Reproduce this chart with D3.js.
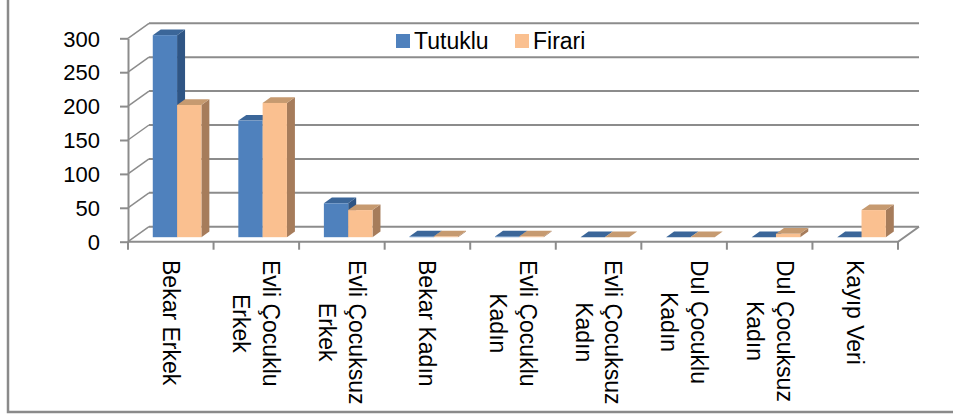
<!DOCTYPE html>
<html>
<head>
<meta charset="utf-8">
<script src="https://cdn.jsdelivr.net/npm/d3@7"></script>
<style>
  html, body { margin: 0; padding: 0; background: #fff; }
  svg { display: block; font-family: "Liberation Sans", Arial, sans-serif; }
</style>
</head>
<body>
<svg width="953" height="414"></svg>
<script>
const categories = ['Bekar Erkek', 'Evli Çocuklu Erkek', 'Evli Çocuksuz Erkek', 'Bekar Kadın',
  'Evli Çocuklu Kadın', 'Evli Çocuksuz Kadın', 'Dul Çocuklu Kadın', 'Dul Çocuksuz Kadın', 'Kayıp Veri'];
const categoryLines = [
  ['Bekar Erkek'], ['Evli Çocuklu', 'Erkek'], ['Evli Çocuksuz', 'Erkek'], ['Bekar Kadın'],
  ['Evli Çocuklu', 'Kadın'], ['Evli Çocuksuz', 'Kadın'], ['Dul Çocuklu', 'Kadın'],
  ['Dul Çocuksuz', 'Kadın'], ['Kayıp Veri']
];
const seriesNames = ['Tutuklu', 'Firari'];
const tutuklu = [298, 172, 50, 1, 1, 0, 0, 0, 0];
const firari = [195, 198, 40, 1, 1, 0, 0, 5, 40];
const yTicks = [0, 50, 100, 150, 200, 250, 300];

const colors = {
  Tutuklu: { front: '#4f81bd', side: '#2f5584', top: '#3b6699' },
  Firari: { front: '#fac090', side: '#a67c5b', top: '#c69a70' }
};

const svg = d3.select('svg');

// depth of the floor / wall
const dx = 21, dy = -15;
const fFront = 0.3, fBack = 0.68;

const x = d3.scaleBand().domain(categories).range([128, 898]).padding(0);
const xs = d3.scaleBand().domain(seriesNames).range([0, x.bandwidth()]).paddingInner(0).paddingOuter(0.76);
const y = d3.scaleLinear().domain([0, 300]).range([241.7, 38.3]);

const grid = '#8c8c8c';
const x0 = x.range()[0], x1 = x.range()[1];

// outer frame (left + bottom visible)
svg.append('path')
  .attr('d', `M8,-5 L8,412 L960,412`)
  .attr('fill', 'none').attr('stroke', '#8a8a8a').attr('stroke-width', 2.5);

// back wall gridlines and side wall diagonals
yTicks.forEach(t => {
  svg.append('line')
    .attr('x1', x0 + dx).attr('x2', x1 + dx)
    .attr('y1', y(t) + dy).attr('y2', y(t) + dy)
    .attr('stroke', grid).attr('stroke-width', 2);
  svg.append('line')
    .attr('x1', x0).attr('y1', y(t))
    .attr('x2', x0 + dx).attr('y2', y(t) + dy)
    .attr('stroke', grid).attr('stroke-width', 1.5);
});

// floor
svg.append('path')
  .attr('d', `M${x0},${y(0)} L${x1},${y(0)} L${x1 + dx},${y(0) + dy}`)
  .attr('fill', 'none').attr('stroke', grid).attr('stroke-width', 2);

// category ticks
d3.range(categories.length + 1).forEach(i => {
  const xx = x0 + i * x.step();
  svg.append('line')
    .attr('x1', xx).attr('x2', xx)
    .attr('y1', y(0)).attr('y2', y(0) + 8)
    .attr('stroke', grid).attr('stroke-width', 2);
});

// bars
const dd = fBack - fFront;
const series = [
  { name: 'Tutuklu', values: tutuklu },
  { name: 'Firari', values: firari }
];
categories.forEach((c, ci) => {
  series.forEach(s => {
    const v = s.values[ci];
    const bx0 = x(c) + xs(s.name) + fFront * dx;
    const bx1 = bx0 + xs.bandwidth();
    const top = y(v) + fFront * dy;
    const bot = y(0) + fFront * dy;
    const ox = dd * dx, oy = dd * dy;
    const col = colors[s.name];
    svg.append('polygon')
      .attr('points', [[bx1, top], [bx1 + ox, top + oy], [bx1 + ox, bot + oy], [bx1, bot]].join(' '))
      .attr('fill', col.side);
    svg.append('polygon')
      .attr('points', [[bx0, top], [bx1, top], [bx1 + ox, top + oy], [bx0 + ox, top + oy]].join(' '))
      .attr('fill', col.top);
    if (bot - top > 0.3) {
      svg.append('rect')
        .attr('x', bx0).attr('y', top)
        .attr('width', bx1 - bx0).attr('height', bot - top)
        .attr('fill', col.front);
    }
  });
});

// y axis
const yAxis = svg.append('g')
  .attr('transform', `translate(${x0},0)`)
  .call(d3.axisLeft(y).tickValues(yTicks).tickSize(8).tickSizeOuter(0).tickPadding(20));
yAxis.select('.domain').attr('stroke', grid).attr('stroke-width', 2);
yAxis.selectAll('.tick line').attr('stroke', grid).attr('stroke-width', 2);
yAxis.selectAll('.tick text')
  .attr('font-family', '"Liberation Sans", Arial, sans-serif')
  .attr('font-size', 22).attr('fill', '#000').attr('dy', '0.35em');
yAxis.attr('font-family', null).attr('font-size', null);

// category labels, rotated to read downward
categoryLines.forEach((lines, ci) => {
  const cx = x(categories[ci]) + x.bandwidth() / 2;
  const n = lines.length;
  const g = svg.append('g');
  const texts = lines.map((l, li) => g.append('text')
    .attr('x', 0)
    .attr('y', (li - (n - 1) / 2) * 30)
    .attr('dy', '0.35em')
    .attr('text-anchor', 'middle')
    .attr('font-size', 23)
    .attr('fill', '#000')
    .text(l));
  const maxLen = d3.max(texts, t => t.node().getComputedTextLength());
  g.attr('transform', `translate(${cx},${260 + maxLen / 2}) rotate(90)`);
});

// legend
const legend = svg.append('g');
const legendItems = [{ name: 'Tutuklu', x: 396 }, { name: 'Firari', x: 515 }];
legendItems.forEach(it => {
  legend.append('rect')
    .attr('x', it.x).attr('y', 34).attr('width', 14).attr('height', 14)
    .attr('fill', colors[it.name].front);
  legend.append('text')
    .attr('x', it.x + 18).attr('y', 48.5)
    .attr('font-size', 23).attr('fill', '#000')
    .text(it.name);
});
</script>
</body>
</html>
